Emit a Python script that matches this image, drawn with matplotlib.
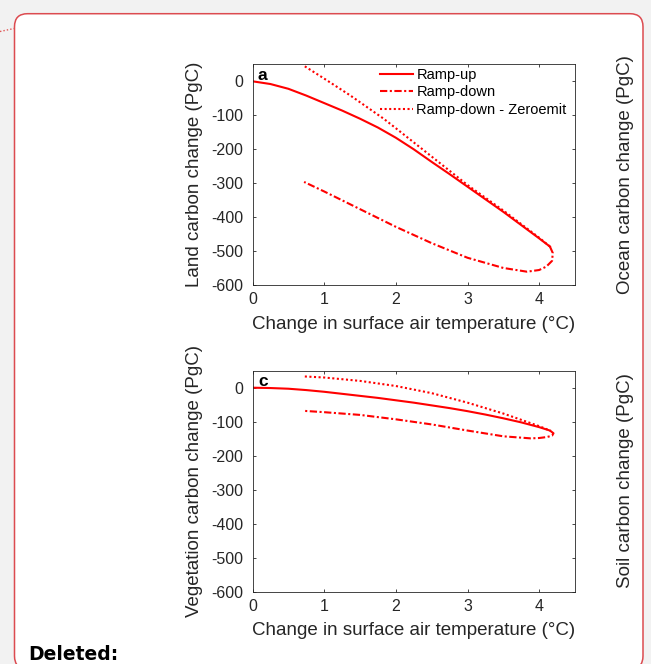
import matplotlib.pyplot as plt
from matplotlib.patches import FancyBboxPatch
from matplotlib.lines import Line2D
from matplotlib.transforms import IdentityTransform

plt.rcParams['font.family'] = ['Liberation Sans', 'DejaVu Sans']
plt.rcParams['axes.unicode_minus'] = False

# ramp-up branch (shared temperature grid for panels a and c)
temp_up = [0, 0.25, 0.5, 0.75, 1.0, 1.25, 1.5, 1.75, 2.0, 2.25, 2.5, 2.75,
           3.0, 3.25, 3.5, 3.75, 4.0, 4.15]
land_up = [0, -8, -22, -42, -64, -86, -110, -136, -166, -200, -237, -273,
           -310, -347, -384, -423, -462, -486]
veg_up = [0, -1, -3, -7, -12, -18, -24, -30, -37, -44, -52, -60,
          -69, -79, -90, -102, -116, -126]

# ramp-down branch, starting from the peak
temp_down_land = [4.15, 4.19, 4.18, 4.1, 4.0, 3.83, 3.5, 3.0, 2.5, 2.0, 1.5, 1.0, 0.72]
land_down = [-486, -505, -528, -545, -555, -560, -549, -519, -476, -428, -376, -324, -296]
temp_down_veg = [4.15, 4.2, 4.18, 4.11, 4.0, 3.88, 3.5, 3.0, 2.5, 2.0, 1.5, 1.0, 0.71]
veg_down = [-126, -134, -141, -145, -148, -149, -143, -126, -108, -93, -80, -72, -68]

# ramp-down with zero emissions
temp_zero_land = [0.73, 1.0, 1.36, 1.83, 2.0, 2.48, 3.0, 3.5, 4.0, 4.15]
land_zero = [44, 8, -41, -110, -138, -218, -305, -380, -460, -486]
temp_zero_veg = [0.73, 1.0, 1.5, 2.0, 2.5, 3.0, 3.5, 4.0, 4.15]
veg_zero = [33, 30, 20, 5, -16, -44, -76, -113, -126]

RED = '#ff0000'
INK = '#262626'
DASHDOT = (0, (3.5, 1.2, 1, 1.2))
DOTTED = (0, (1, 1.2))

W, H = 651, 664
fig = plt.figure(figsize=(W / 100, H / 100), dpi=100, facecolor='#f2f2f2')

# white rounded panel behind the plots
box = FancyBboxPatch((14.5, -5), 628.5, 655.3,
                     boxstyle='round,pad=0,rounding_size=13',
                     transform=IdentityTransform(), fc='white',
                     ec='#dc4b50', lw=1.1, zorder=-5)
fig.add_artist(box)
fig.add_artist(Line2D([0, 14], [H - 31.5, H - 28.5], transform=IdentityTransform(),
                      color='#e05555', lw=1, linestyle=(0, (1, 1.5)), zorder=-4))


def style_axes(ax, letter, ylabel):
    ax.set_xlim(0, 4.5)
    ax.set_ylim(-600, 50)
    ax.set_xticks([0, 1, 2, 3, 4])
    ax.set_yticks(range(-600, 1, 100))
    ax.tick_params(direction='in', top=True, right=True, length=2.5, width=0.6,
                   colors=INK, labelsize=11.5)
    ax.tick_params(axis='x', pad=5)
    ax.tick_params(axis='y', pad=6.5)
    for s in ax.spines.values():
        s.set_linewidth(0.6)
        s.set_color(INK)
    ax.set_xlabel('Change in surface air temperature (°C)', fontsize=13.5, color=INK)
    ax.xaxis.set_label_coords(0.5, -0.139)
    ax.set_ylabel(ylabel, fontsize=13.5, color=INK)
    ax.yaxis.set_label_coords(-0.152, 0.5)
    ax.text(0.017, 0.93, letter, transform=ax.transAxes, fontsize=12.5,
            fontweight='bold', va='baseline', color='black')


ax_a = fig.add_axes([252.5 / W, (H - 285.3) / H, 322.5 / W, 221 / H])
ax_a.plot(temp_up, land_up, color=RED, lw=1.5, label='Ramp-up')
ax_a.plot(temp_down_land, land_down, color=RED, lw=1.5, linestyle=DASHDOT, label='Ramp-down')
ax_a.plot(temp_zero_land, land_zero, color=RED, lw=1.5, linestyle=DOTTED,
          label='Ramp-down - Zeroemit')
style_axes(ax_a, 'a', 'Land carbon change (PgC)')
ax_a.legend(frameon=False, loc='upper left', bbox_to_anchor=(0.395, 0.985),
            borderpad=0, borderaxespad=0, handlelength=2.3, handletextpad=0.2,
            labelspacing=0.25, fontsize=10.5)

ax_c = fig.add_axes([252.5 / W, (H - 591.7) / H, 322.5 / W, 221 / H])
ax_c.plot(temp_up, veg_up, color=RED, lw=1.5)
ax_c.plot(temp_down_veg, veg_down, color=RED, lw=1.5, linestyle=DASHDOT)
ax_c.plot(temp_zero_veg, veg_zero, color=RED, lw=1.5, linestyle=DOTTED)
style_axes(ax_c, 'c', 'Vegetation carbon change (PgC)')

# y labels of the neighbouring panels
fig.text(625 / W, (H - 175) / H, 'Ocean carbon change (PgC)', rotation=90,
         ha='center', va='center', fontsize=13.5, color=INK)
fig.text(625 / W, (H - 481) / H, 'Soil carbon change (PgC)', rotation=90,
         ha='center', va='center', fontsize=13.5, color=INK)

fig.text(28 / W, 4.5 / H, 'Deleted:', family='DejaVu Sans', fontweight='bold',
         fontsize=13.5, va='baseline', color='black')

fig.savefig('out.png', dpi=100, facecolor=fig.get_facecolor())
